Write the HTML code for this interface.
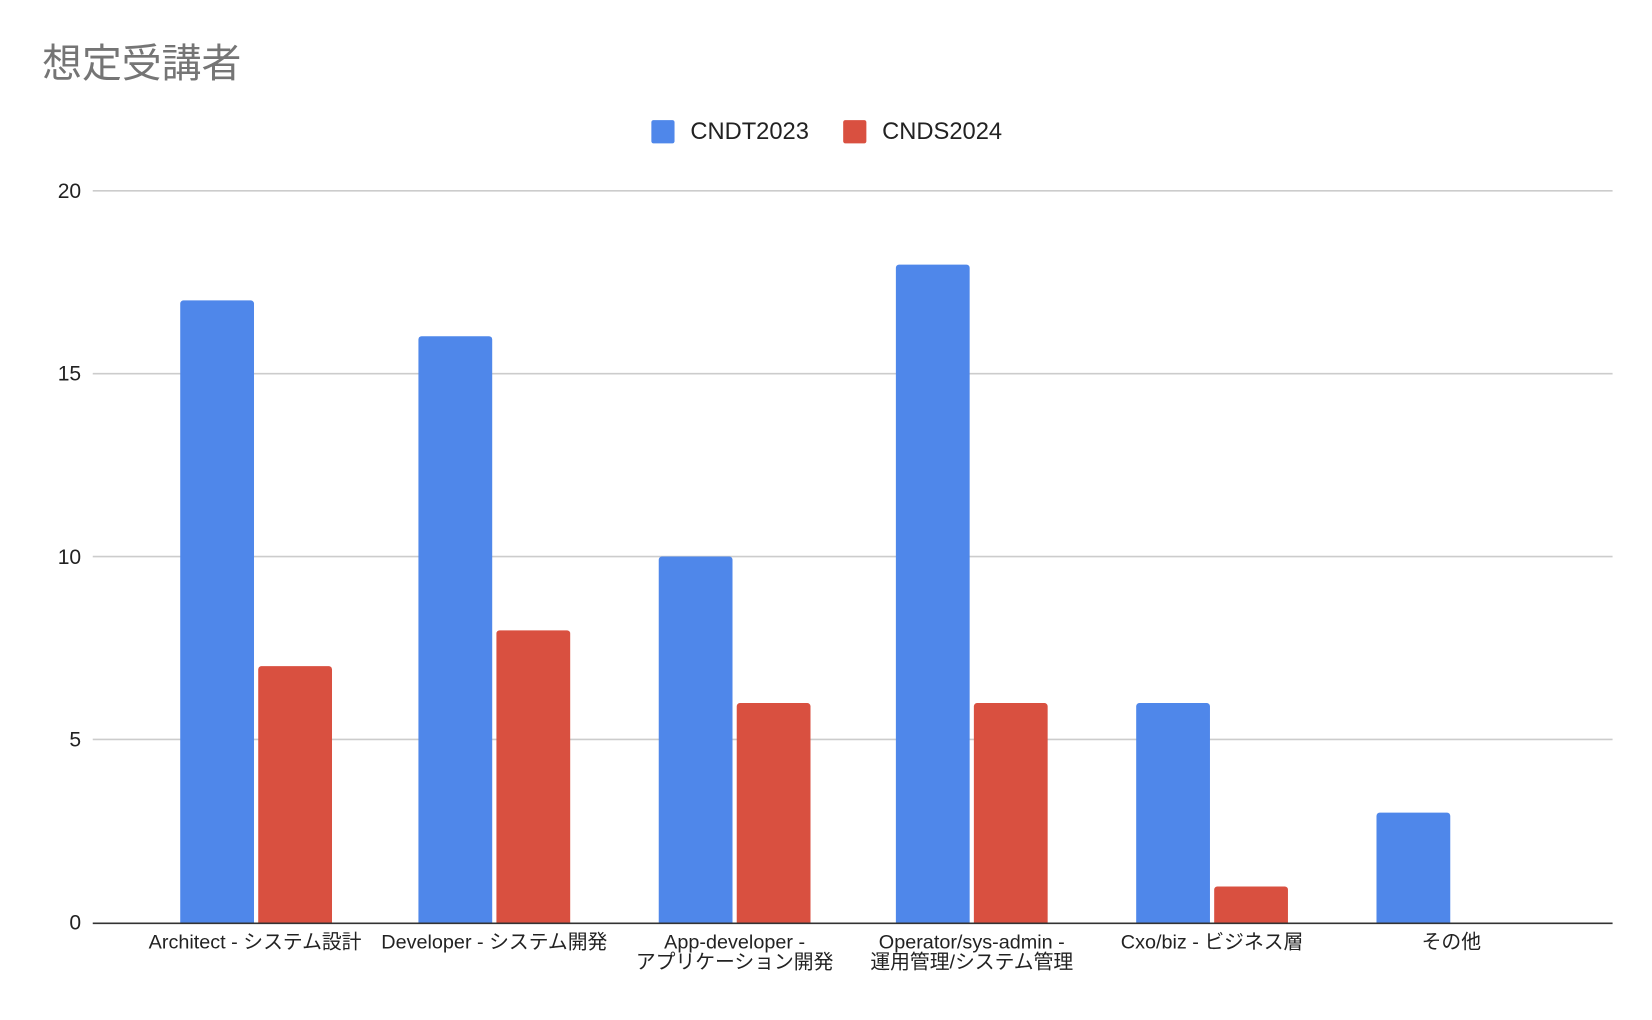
<!DOCTYPE html>
<html><head><meta charset="utf-8"><style>html,body{margin:0;padding:0;background:#fff}svg{display:block}</style></head>
<body>
<svg width="1652" height="1020" viewBox="0 0 1567.4 967.7" preserveAspectRatio="none" xmlns="http://www.w3.org/2000/svg" font-family="'Liberation Sans','Noto Sans CJK JP',sans-serif">
<rect width="1567.4" height="967.7" fill="#fff"/>
<text x="40" y="73" font-size="37.8" fill="#757575">想定受講者</text>
<rect x="618" y="114" width="22" height="22" rx="2" fill="#4f87ea"/>
<text x="655" y="132" font-size="22.5" fill="#222">CNDT2023</text>
<rect x="800" y="114" width="22" height="22" rx="2" fill="#d95040"/>
<text x="837" y="132" font-size="22.5" fill="#222">CNDS2024</text>
<g stroke="#ccc" stroke-width="1.5">
<line x1="88" x2="1530" y1="181" y2="181"/>
<line x1="88" x2="1530" y1="354.5" y2="354.5"/>
<line x1="88" x2="1530" y1="528" y2="528"/>
<line x1="88" x2="1530" y1="701.5" y2="701.5"/>
</g>
<g font-size="20" fill="#222" text-anchor="end">
<text x="77" y="188">20</text>
<text x="77" y="361">15</text>
<text x="77" y="535">10</text>
<text x="77" y="708">5</text>
<text x="77" y="882">0</text>
</g>
<defs><clipPath id="c"><rect x="0" y="0" width="1567" height="876"/></clipPath></defs>
<g clip-path="url(#c)">
<g fill="#4f87ea">
<rect x="171" y="285" width="70" height="595" rx="3"/>
<rect x="397" y="319" width="70" height="561" rx="3"/>
<rect x="625" y="528" width="70" height="352" rx="3"/>
<rect x="850" y="251" width="70" height="629" rx="3"/>
<rect x="1078" y="667" width="70" height="213" rx="3"/>
<rect x="1306" y="771" width="70" height="109" rx="3"/>
</g>
<g fill="#d95040">
<rect x="245" y="632" width="70" height="248" rx="3"/>
<rect x="471" y="598" width="70" height="282" rx="3"/>
<rect x="699" y="667" width="70" height="213" rx="3"/>
<rect x="924" y="667" width="70" height="213" rx="3"/>
<rect x="1152" y="841" width="70" height="39" rx="3"/>
</g>
</g>
<line x1="88" x2="1530" y1="876" y2="876" stroke="#333" stroke-width="1.5"/>
<g font-size="18.8" fill="#222" text-anchor="middle">
<text x="242" y="900">Architect - システム設計</text>
<text x="469" y="900">Developer - システム開発</text>
<text x="697" y="900">App-developer -</text>
<text x="697" y="919">アプリケーション開発</text>
<text x="922" y="900">Operator/sys-admin -</text>
<text x="922" y="919">運用管理/システム管理</text>
<text x="1150" y="900">Cxo/biz - ビジネス層</text>
<text x="1377" y="900">その他</text>
</g>
</svg>
</body></html>
